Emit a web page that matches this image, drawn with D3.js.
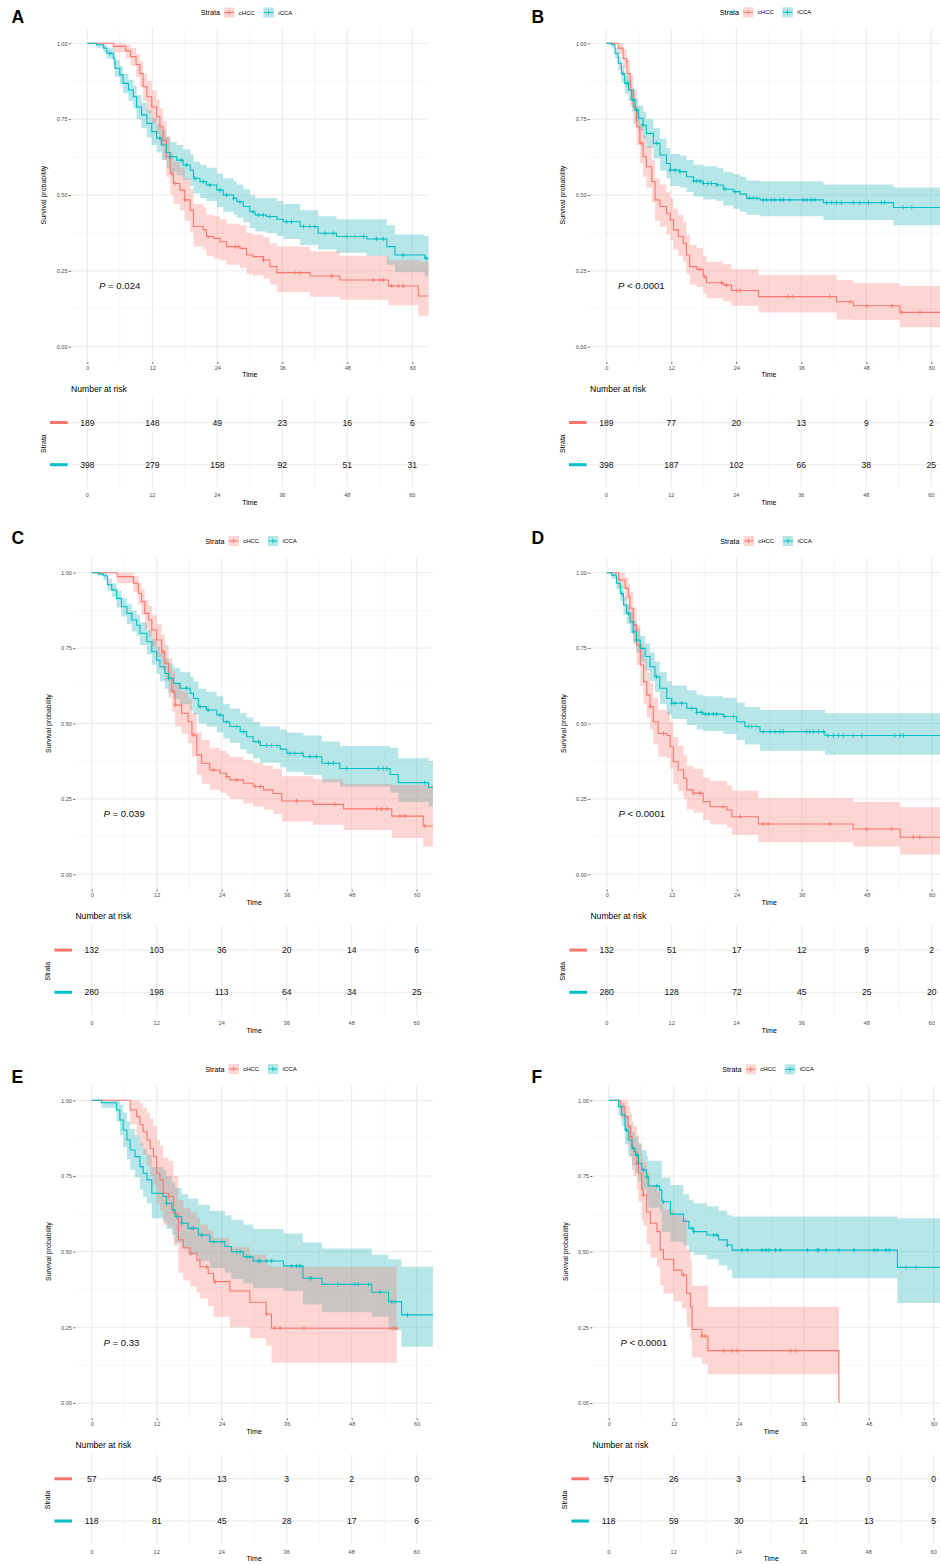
<!DOCTYPE html>
<html><head><meta charset="utf-8">
<script src="https://cdn.jsdelivr.net/npm/d3@7"></script>
<style>
body{margin:0;background:#fff}
svg{display:block}
text{font-family:"Liberation Sans",Arial,Helvetica,sans-serif}
</style>
</head><body>
<svg id="c" width="940" height="1564"></svg>
<script>
// ---------------- DATA ----------------
const strata = ["cHCC", "iCCA"];
const timeTicks = [0, 12, 24, 36, 48, 60];
const timeMinor = [6, 18, 30, 42, 54];
const survTicks = [0, 0.25, 0.5, 0.75, 1];
const survMinor = [0.125, 0.375, 0.625, 0.875];
const panelIds = ["A", "B", "C", "D", "E", "F"];
const pSigns = ["= 0.024", "< 0.0001", "= 0.039", "< 0.0001", "= 0.33", "< 0.0001"];

// rows: [time, survival, lower CI, upper CI]
const A_cHCC = [[0,1,1,1],[4.8,0.99,0.97,1],[7.1,0.975,0.95,0.995],[8.0,0.956,0.925,0.985],[9.0,0.93,0.89,0.965],[9.7,0.90,0.855,0.94],[10.3,0.857,0.81,0.90],[11.0,0.824,0.77,0.875],[11.9,0.79,0.735,0.845],[12.8,0.758,0.70,0.815],[13.4,0.725,0.665,0.785],[14.0,0.68,0.615,0.745],[14.6,0.626,0.56,0.695],[15.3,0.571,0.50,0.64],[15.9,0.538,0.47,0.61],[17.1,0.516,0.45,0.59],[18.0,0.484,0.415,0.555],[19.0,0.45,0.38,0.52],[19.6,0.396,0.33,0.47],[21.4,0.385,0.32,0.46],[22.0,0.363,0.30,0.435],[23.3,0.357,0.29,0.43],[24.5,0.346,0.285,0.42],[25.7,0.33,0.27,0.405],[28.2,0.324,0.26,0.40],[29.4,0.302,0.24,0.375],[30.6,0.297,0.235,0.37],[32.5,0.286,0.225,0.36],[33.7,0.264,0.205,0.34],[35.0,0.244,0.18,0.33],[41.1,0.233,0.165,0.315],[46.6,0.22,0.155,0.30],[55.6,0.20,0.137,0.285],[61.1,0.167,0.10,0.28],[64,0.167,0.10,0.28]];
const A_iCCA = [[0,1,1,1],[1.7,0.995,0.985,1],[3.0,0.984,0.97,0.997],[3.6,0.967,0.95,0.985],[4.8,0.95,0.93,0.97],[5.1,0.918,0.89,0.945],[6.0,0.896,0.865,0.925],[6.6,0.868,0.835,0.90],[7.6,0.846,0.81,0.88],[8.5,0.824,0.785,0.86],[9.1,0.79,0.75,0.83],[10.0,0.764,0.72,0.805],[11.0,0.736,0.69,0.78],[11.9,0.709,0.665,0.755],[12.8,0.687,0.64,0.735],[13.7,0.665,0.615,0.715],[14.6,0.64,0.59,0.69],[15.3,0.626,0.575,0.675],[16.5,0.615,0.565,0.665],[17.7,0.599,0.55,0.65],[19.0,0.582,0.53,0.635],[19.6,0.555,0.505,0.61],[20.8,0.544,0.49,0.60],[22.0,0.533,0.48,0.59],[23.9,0.516,0.46,0.57],[25.1,0.50,0.445,0.555],[27.0,0.489,0.435,0.545],[27.6,0.478,0.425,0.535],[28.8,0.462,0.41,0.52],[30.0,0.445,0.39,0.50],[31.0,0.434,0.38,0.49],[33.1,0.429,0.375,0.49],[35.0,0.42,0.365,0.48],[36.2,0.412,0.355,0.47],[39.3,0.396,0.335,0.45],[42.6,0.374,0.32,0.43],[46.0,0.363,0.31,0.42],[51.6,0.355,0.30,0.42],[55.3,0.33,0.27,0.40],[56.8,0.302,0.245,0.37],[62.3,0.291,0.232,0.365],[64,0.291,0.232,0.365]];
const B_cHCC = [[0,1,1,1],[2.2,0.984,0.965,1],[3.1,0.95,0.92,0.98],[3.8,0.90,0.86,0.945],[4.4,0.846,0.795,0.895],[5.0,0.79,0.735,0.845],[5.6,0.725,0.665,0.785],[6.2,0.67,0.605,0.735],[6.8,0.626,0.56,0.695],[7.4,0.593,0.525,0.66],[8.4,0.544,0.475,0.615],[9.0,0.484,0.415,0.555],[9.9,0.462,0.395,0.535],[11.1,0.44,0.37,0.51],[11.8,0.418,0.35,0.49],[12.4,0.385,0.32,0.455],[13.3,0.363,0.30,0.435],[14.2,0.341,0.28,0.41],[14.8,0.302,0.24,0.37],[15.4,0.264,0.205,0.335],[16.7,0.255,0.197,0.325],[17.9,0.231,0.175,0.30],[18.5,0.211,0.16,0.28],[21.6,0.203,0.15,0.272],[23.1,0.185,0.135,0.255],[28.1,0.165,0.113,0.236],[42.5,0.148,0.09,0.22],[45.6,0.135,0.088,0.21],[54.2,0.113,0.064,0.20],[64,0.113,0.064,0.20]];
const B_iCCA = [[0,1,1,1],[1.0,0.995,0.985,1],[1.6,0.967,0.95,0.985],[2.2,0.934,0.91,0.955],[2.8,0.90,0.87,0.925],[3.4,0.868,0.835,0.895],[4.1,0.846,0.81,0.88],[4.7,0.813,0.775,0.85],[5.3,0.78,0.74,0.82],[5.9,0.753,0.71,0.795],[6.8,0.73,0.685,0.775],[7.4,0.703,0.655,0.75],[8.7,0.67,0.62,0.72],[9.9,0.632,0.58,0.685],[11.1,0.604,0.555,0.655],[11.8,0.582,0.53,0.635],[13.6,0.577,0.525,0.63],[14.8,0.56,0.51,0.615],[16.1,0.546,0.495,0.60],[17.9,0.538,0.485,0.595],[20.4,0.533,0.48,0.59],[21.6,0.519,0.465,0.575],[23.4,0.511,0.455,0.568],[24.7,0.503,0.445,0.56],[25.9,0.489,0.435,0.548],[28.4,0.484,0.43,0.545],[40.1,0.475,0.418,0.535],[53.0,0.459,0.40,0.525],[64,0.459,0.40,0.525]];
const C_cHCC = [[0,1,1,1],[4.7,0.987,0.965,1],[7.7,0.965,0.935,0.99],[8.6,0.931,0.895,0.965],[9.2,0.904,0.86,0.945],[9.8,0.865,0.815,0.91],[10.5,0.843,0.79,0.89],[11.1,0.81,0.755,0.86],[12.0,0.777,0.72,0.83],[12.9,0.738,0.68,0.795],[13.5,0.70,0.64,0.76],[14.2,0.65,0.585,0.715],[14.8,0.606,0.54,0.675],[15.4,0.561,0.49,0.63],[16.6,0.534,0.465,0.605],[17.8,0.506,0.435,0.58],[18.5,0.462,0.39,0.535],[19.4,0.396,0.33,0.47],[20.3,0.368,0.30,0.445],[21.8,0.346,0.28,0.42],[23.7,0.335,0.27,0.41],[24.9,0.324,0.26,0.40],[25.5,0.313,0.25,0.39],[28.0,0.302,0.235,0.38],[29.8,0.291,0.225,0.37],[31.7,0.28,0.215,0.36],[33.5,0.268,0.2,0.35],[35.1,0.243,0.175,0.325],[40.9,0.232,0.164,0.315],[46.5,0.217,0.147,0.30],[55.4,0.193,0.12,0.296],[61.2,0.16,0.092,0.296],[64,0.16,0.092,0.296]];
const C_iCCA = [[0,1,1,1],[1.2,0.996,0.99,1],[2.2,0.99,0.975,1],[2.9,0.96,0.94,0.98],[3.7,0.943,0.92,0.965],[4.6,0.915,0.885,0.94],[5.5,0.887,0.855,0.915],[6.5,0.865,0.83,0.895],[7.4,0.843,0.805,0.875],[8.3,0.826,0.79,0.86],[8.9,0.799,0.76,0.835],[10.2,0.771,0.73,0.81],[11.1,0.738,0.695,0.78],[12.0,0.71,0.665,0.755],[12.6,0.688,0.64,0.735],[13.5,0.666,0.615,0.715],[14.2,0.65,0.60,0.70],[15.1,0.633,0.58,0.685],[16.3,0.617,0.565,0.67],[18.2,0.60,0.545,0.655],[18.8,0.583,0.53,0.64],[19.7,0.556,0.50,0.615],[21.2,0.545,0.49,0.605],[23.1,0.528,0.47,0.59],[24.3,0.506,0.45,0.565],[25.5,0.49,0.435,0.55],[27.4,0.473,0.415,0.535],[28.6,0.456,0.40,0.52],[29.8,0.44,0.385,0.505],[31.1,0.427,0.37,0.49],[34.8,0.415,0.355,0.48],[36.0,0.401,0.34,0.47],[39.1,0.39,0.33,0.46],[42.5,0.368,0.305,0.44],[45.8,0.351,0.29,0.425],[55.1,0.331,0.27,0.42],[56.6,0.304,0.24,0.385],[62.2,0.288,0.225,0.376],[64,0.288,0.225,0.376]];
const D_cHCC = [[0,1,1,1],[2.2,0.976,0.95,1],[3.4,0.948,0.91,0.985],[4.0,0.92,0.875,0.965],[4.3,0.882,0.83,0.935],[4.9,0.827,0.77,0.885],[5.5,0.76,0.695,0.825],[6.2,0.694,0.625,0.765],[6.8,0.639,0.565,0.715],[7.4,0.594,0.52,0.67],[8.0,0.556,0.48,0.635],[8.6,0.506,0.43,0.585],[9.5,0.467,0.39,0.545],[11.1,0.46,0.385,0.54],[11.7,0.423,0.35,0.505],[12.3,0.373,0.30,0.455],[13.2,0.346,0.275,0.425],[14.2,0.318,0.25,0.395],[14.8,0.28,0.215,0.36],[16.0,0.269,0.205,0.35],[17.8,0.241,0.18,0.32],[19.1,0.224,0.165,0.31],[22.2,0.213,0.155,0.295],[23.1,0.191,0.13,0.277],[28.0,0.167,0.106,0.252],[45.5,0.15,0.092,0.24],[54.2,0.123,0.066,0.222],[64,0.123,0.066,0.222]];
const D_iCCA = [[0,1,1,1],[0.9,0.992,0.98,1],[1.8,0.965,0.945,0.985],[2.5,0.931,0.905,0.955],[3.1,0.893,0.86,0.92],[3.7,0.865,0.83,0.895],[4.3,0.838,0.80,0.87],[4.9,0.804,0.765,0.84],[5.5,0.777,0.735,0.815],[6.2,0.749,0.705,0.79],[7.1,0.722,0.675,0.765],[8.0,0.688,0.64,0.735],[8.9,0.655,0.605,0.705],[9.8,0.617,0.565,0.67],[11.1,0.583,0.53,0.64],[12.0,0.567,0.515,0.625],[14.8,0.55,0.495,0.61],[16.6,0.537,0.48,0.595],[17.8,0.531,0.475,0.59],[21.5,0.523,0.465,0.585],[24.0,0.506,0.445,0.57],[25.5,0.49,0.43,0.555],[28.3,0.473,0.41,0.545],[40.3,0.46,0.396,0.534],[64,0.46,0.396,0.534]];
const E_cHCC = [[0,1,1,1],[7.1,0.968,0.92,1],[8.3,0.946,0.885,1],[8.9,0.92,0.85,0.99],[9.5,0.896,0.82,0.975],[10.2,0.869,0.785,0.96],[10.8,0.841,0.75,0.94],[11.4,0.814,0.72,0.915],[12.0,0.759,0.66,0.87],[12.6,0.737,0.635,0.85],[13.2,0.693,0.59,0.81],[14.2,0.682,0.58,0.80],[15.1,0.627,0.52,0.75],[16.0,0.539,0.43,0.67],[16.9,0.513,0.405,0.645],[18.2,0.494,0.385,0.63],[19.4,0.472,0.365,0.61],[20.0,0.45,0.345,0.59],[21.5,0.428,0.32,0.57],[22.5,0.401,0.285,0.545],[25.5,0.37,0.25,0.515],[29.2,0.333,0.214,0.49],[32.2,0.294,0.19,0.455],[33.2,0.247,0.133,0.45],[56.3,0.247,0.133,0.45]];
const E_iCCA = [[0,1,1,1],[1.8,0.992,0.975,1],[4.6,0.968,0.93,1],[5.2,0.935,0.885,0.985],[5.8,0.902,0.845,0.96],[6.5,0.869,0.805,0.93],[7.1,0.836,0.77,0.905],[8.0,0.814,0.745,0.885],[8.9,0.781,0.705,0.86],[9.5,0.759,0.68,0.84],[10.2,0.737,0.66,0.82],[11.1,0.693,0.61,0.78],[13.2,0.682,0.60,0.77],[13.8,0.66,0.575,0.75],[14.8,0.638,0.555,0.73],[15.4,0.616,0.53,0.71],[16.6,0.594,0.51,0.69],[17.8,0.577,0.49,0.675],[19.7,0.555,0.47,0.655],[21.8,0.533,0.445,0.635],[24.6,0.517,0.43,0.62],[25.8,0.50,0.41,0.605],[28.0,0.483,0.395,0.59],[29.8,0.469,0.38,0.575],[35.4,0.453,0.37,0.56],[39.0,0.412,0.325,0.53],[42.5,0.392,0.30,0.51],[51.7,0.366,0.285,0.49],[54.8,0.335,0.24,0.475],[57.2,0.291,0.186,0.45],[64,0.291,0.186,0.45]];
const F_cHCC = [[0,1,1,1],[2.1,0.979,0.94,1],[3.0,0.946,0.895,1],[3.6,0.913,0.85,0.98],[4.0,0.88,0.81,0.955],[4.3,0.847,0.77,0.93],[4.6,0.83,0.75,0.915],[5.2,0.792,0.705,0.885],[5.5,0.759,0.665,0.86],[6.1,0.704,0.605,0.81],[6.4,0.687,0.585,0.795],[7.0,0.632,0.525,0.76],[7.7,0.594,0.48,0.72],[8.9,0.566,0.45,0.70],[9.5,0.506,0.39,0.66],[10.1,0.475,0.362,0.64],[12.0,0.439,0.335,0.62],[13.5,0.423,0.313,0.61],[14.4,0.362,0.252,0.506],[15.1,0.318,0.21,0.47],[15.4,0.243,0.15,0.387],[17.2,0.221,0.13,0.387],[18.3,0.173,0.095,0.318],[42.5,0,null,null]];
const F_iCCA = [[0,1,1,1],[1.8,0.979,0.95,1],[2.4,0.952,0.915,0.99],[3.0,0.902,0.855,0.95],[3.6,0.869,0.815,0.92],[4.3,0.841,0.785,0.895],[4.9,0.819,0.76,0.88],[5.5,0.792,0.73,0.855],[6.1,0.77,0.705,0.835],[7.0,0.748,0.68,0.815],[7.3,0.717,0.645,0.80],[9.4,0.704,0.63,0.80],[9.8,0.665,0.565,0.745],[11.4,0.624,0.533,0.72],[13.8,0.60,0.52,0.69],[14.8,0.577,0.50,0.67],[15.7,0.566,0.49,0.66],[18.1,0.555,0.475,0.65],[20.3,0.539,0.455,0.635],[21.9,0.522,0.44,0.62],[22.8,0.505,0.412,0.616],[53.3,0.448,0.33,0.61],[64,0.448,0.33,0.61]];

// censoring times
const A_cHCC_cens = [15.6,16.2,18.0,22.3,27.3,27.9,32.5,38.3,39.3,45.1,52.8,54.0,54.6,56.2,57.4,58.3];
const A_iCCA_cens = [4.2,13.4,15.3,17.4,18.3,19.9,21.4,22.6,24.5,25.7,27.0,28.2,30.6,31.6,32.5,33.7,36.8,37.7,39.9,41.1,42.0,43.9,45.4,47.9,49.4,51.0,53.4,54.6,58.3,62.6];
const B_cHCC_cens = [6.5,17.3,18.2,21.3,22.2,24.1,24.7,33.6,34.5,41.3,45.0,48.1,52.7,54.5,57.9];
const B_iCCA_cens = [3.1,3.8,5.0,5.6,6.8,9.3,11.8,12.7,13.6,16.1,16.7,17.3,17.9,18.8,19.4,20.4,21.9,23.8,26.5,27.1,27.8,29.0,29.6,30.5,31.1,32.1,32.7,33.9,36.4,37.0,37.9,38.5,40.7,41.6,42.5,43.4,45.6,46.8,48.4,50.8,51.4,54.8,56.4];
const C_cHCC_cens = [13.2,15.1,15.4,18.8,22.5,24.9,26.8,30.2,31.1,37.8,44.9,52.6,53.5,54.5,56.9,57.8,61.5];
const C_iCCA_cens = [14.2,17.5,20.0,21.5,23.7,24.9,26.8,28.0,30.8,32.3,33.2,34.2,36.6,37.5,38.8,40.3,41.5,43.7,44.6,47.1,52.9,53.8,54.5,61.5];
const D_cHCC_cens = [8.0,10.5,16.0,17.2,21.5,24.6,28.9,29.8,41.2,48.0,52.6,56.6,57.8];
const D_iCCA_cens = [2.8,4.0,4.9,5.5,9.2,12.0,12.6,13.8,15.7,16.6,17.5,18.2,18.8,19.7,20.3,21.8,23.4,26.2,26.8,27.7,28.9,30.2,31.1,32.0,32.6,36.9,37.5,38.2,39.1,40.0,40.9,41.8,42.8,43.7,45.5,47.1,53.2,54.2,54.8];
const E_cHCC_cens = [14.2,18.3,21.2,22.8,32.3,33.8,34.8,39.2,55.7,56.3];
const E_iCCA_cens = [13.8,15.7,16.6,18.5,18.8,20.3,22.5,24.0,26.8,27.4,28.6,29.2,30.8,31.1,32.3,33.2,36.9,37.8,38.5,40.3,40.6,45.4,48.6,49.2,51.1,53.2,55.4,56.0,58.3];
const F_cHCC_cens = [4.0,5.2,6.4,13.8,17.2,17.8,21.2,22.8,23.7,33.6,34.5];
const F_iCCA_cens = [3.3,4.6,5.2,6.4,7.0,8.9,10.1,15.4,15.7,19.4,20.0,21.9,24.6,25.6,28.3,29.0,29.6,30.8,31.7,36.7,38.5,38.8,40.1,42.5,45.3,49.0,49.6,51.2,51.8,54.9,56.7];

// number at risk at timeTicks
const A_risk_cHCC = [189,148,49,23,16,6];
const A_risk_iCCA = [398,279,158,92,51,31];
const B_risk_cHCC = [189,77,20,13,9,2];
const B_risk_iCCA = [398,187,102,66,38,25];
const C_risk_cHCC = [132,103,36,20,14,6];
const C_risk_iCCA = [280,198,113,64,34,25];
const D_risk_cHCC = [132,51,17,12,9,2];
const D_risk_iCCA = [280,128,72,45,25,20];
const E_risk_cHCC = [57,45,13,3,2,0];
const E_risk_iCCA = [118,81,45,28,17,6];
const F_risk_cHCC = [57,26,3,1,0,0];
const F_risk_iCCA = [118,59,30,21,13,5];

const curves = {A:[A_cHCC,A_iCCA],B:[B_cHCC,B_iCCA],C:[C_cHCC,C_iCCA],D:[D_cHCC,D_iCCA],E:[E_cHCC,E_iCCA],F:[F_cHCC,F_iCCA]};
const censors = {A:[A_cHCC_cens,A_iCCA_cens],B:[B_cHCC_cens,B_iCCA_cens],C:[C_cHCC_cens,C_iCCA_cens],D:[D_cHCC_cens,D_iCCA_cens],E:[E_cHCC_cens,E_iCCA_cens],F:[F_cHCC_cens,F_iCCA_cens]};
const risks = {A:[A_risk_cHCC,A_risk_iCCA],B:[B_risk_cHCC,B_risk_iCCA],C:[C_risk_cHCC,C_risk_iCCA],D:[D_risk_cHCC,D_risk_iCCA],E:[E_risk_cHCC,E_risk_iCCA],F:[F_risk_cHCC,F_risk_iCCA]};

// ---------------- LAYOUT ----------------
const layout = [
  {x0:87.3,  y1:43.3,   y0:346.7, lx:11.5, ly:22.7,   legY:12.5},
  {x0:606.3, y1:43.3,   y0:346.7, lx:531.5, ly:22.7,  legY:12.3},
  {x0:91.7,  y1:572.7,  y0:874.3, lx:11.5, ly:544.3,  legY:541},
  {x0:606.7, y1:572.7,  y0:874.3, lx:531.5, ly:544.3, legY:541},
  {x0:91.7,  y1:1100.3, y0:1403,  lx:11.5, ly:1082.7, legY:1069},
  {x0:608.7, y1:1100.3, y0:1403,  lx:531.5, ly:1082.7, legY:1069.3}
];
const colors = ["#F8766D", "#00BFC4"];
const bandColors = ["#F8766D", "#12adb3"];
const FONT = '"Liberation Sans",Arial,Helvetica,sans-serif';

const svg = d3.select("#c");
const defs = svg.append("defs");

layout.forEach((L, i) => {
  const id = panelIds[i];
  const g = svg.append("g");
  const x = d3.scaleLinear().domain([0, 60]).range([L.x0, L.x0 + 325]);
  const y = d3.scaleLinear().domain([0, 1]).range([L.y0, L.y1]);
  const xl = x(-3), xr = x(63), yt = y(1.05), yb = y(-0.05);

  // grid
  const grid = g.append("g");
  grid.selectAll(".hm").data(survMinor).join("line")
    .attr("x1", xl).attr("x2", xr).attr("y1", d => y(d)).attr("y2", d => y(d))
    .attr("stroke", "#f2f2f2").attr("stroke-width", 0.6);
  grid.selectAll(".vm").data(timeMinor).join("line")
    .attr("x1", d => x(d)).attr("x2", d => x(d)).attr("y1", yt).attr("y2", yb)
    .attr("stroke", "#f0f0f0").attr("stroke-width", 0.7);
  grid.selectAll(".hM").data(survTicks).join("line")
    .attr("x1", xl).attr("x2", xr).attr("y1", d => y(d)).attr("y2", d => y(d))
    .attr("stroke", "#e8e8e8").attr("stroke-width", 0.9);
  grid.selectAll(".vM").data(timeTicks).join("line")
    .attr("x1", d => x(d)).attr("x2", d => x(d)).attr("y1", yt).attr("y2", yb)
    .attr("stroke", "#e8e8e8").attr("stroke-width", 0.9);

  // clip
  defs.append("clipPath").attr("id", "clip" + id).append("rect")
    .attr("x", xl).attr("y", yt).attr("width", xr - xl).attr("height", yb - yt);
  const plot = g.append("g").attr("clip-path", `url(#clip${id})`);

  const area = d3.area().x(d => x(d.t)).y0(d => y(d.lo)).y1(d => y(d.hi));
  const line = d3.line().x(d => x(d[0])).y(d => y(d[1])).curve(d3.curveStepAfter);

  // ribbons: iCCA first, cHCC on top (neutral grey overlap)
  [1, 0].forEach(k => {
    const rows = curves[id][k];
    const pts = [];
    for (let j = 0; j < rows.length - 1; j++) {
      const r = rows[j], n = rows[j + 1];
      if (r[2] == null) continue;
      pts.push({t: r[0], lo: r[2], hi: r[3]}, {t: n[0], lo: r[2], hi: r[3]});
    }
    plot.append("path").attr("d", area(pts)).attr("fill", bandColors[k]).attr("fill-opacity", 0.3);
  });
  curves[id].forEach((rows, k) => {
    plot.append("path").attr("d", line(rows)).attr("fill", "none")
      .attr("stroke", colors[k]).attr("stroke-width", 1.1);
    const bis = d3.bisector(r => r[0]).right;
    const cg = plot.append("g").attr("stroke", colors[k]).attr("stroke-width", 0.9);
    censors[id][k].forEach(t => {
      const s = rows[Math.max(0, bis(rows, t) - 1)][1];
      const cx = x(t), cy = y(s);
      cg.append("path").attr("d", `M${cx - 1.8},${cy}H${cx + 1.8}M${cx},${cy - 2.2}V${cy + 2.2}`);
    });
  });

  // axes
  const ya = g.append("g").attr("transform", `translate(${xl},0)`)
    .call(d3.axisLeft(y).tickValues(survTicks).tickFormat(d3.format(".2f")).tickSize(2.3).tickPadding(1.2));
  ya.select(".domain").remove();
  ya.selectAll("line").attr("stroke", "#333").attr("stroke-width", 0.7);
  ya.selectAll("text").attr("font-size", 5.6).attr("fill", "#4d4d4d").attr("font-family", FONT);

  const xa = g.append("g").attr("transform", `translate(0,${yb})`)
    .call(d3.axisBottom(x).tickValues(timeTicks).tickSize(2.3).tickPadding(1.5));
  xa.select(".domain").remove();
  xa.selectAll("line").attr("stroke", "#333").attr("stroke-width", 0.7);
  xa.selectAll("text").attr("font-size", 5.6).attr("fill", "#4d4d4d").attr("font-family", FONT);

  g.append("text").attr("x", (xl + xr) / 2).attr("y", L.y0 + 28.3).attr("dy", "0.35em")
    .attr("text-anchor", "middle").attr("font-size", 7).text("Time");
  g.append("text").attr("transform", `translate(${L.x0 - 43.6},${(L.y0 + L.y1) / 2}) rotate(-90)`)
    .attr("dy", "0.35em").attr("text-anchor", "middle").attr("font-size", 7).text("Survival probability");

  // p-value
  const pt = g.append("text").attr("x", L.x0 + 11.7).attr("y", y(0.2)).attr("dy", "0.35em")
    .attr("font-size", 9.6).attr("fill", "#111");
  pt.append("tspan").attr("font-style", "italic").text("P");
  pt.append("tspan").text(" " + pSigns[i]);

  // panel label
  g.append("text").attr("x", L.lx).attr("y", L.ly).attr("font-size", 17.5)
    .attr("font-weight", "bold").text(id);

  // legend
  const lg = g.append("g").attr("transform", `translate(${L.x0 + 113.5},${L.legY})`);
  lg.append("text").attr("x", 0).attr("dy", "0.35em").attr("font-size", 7.2).text("Strata");
  const keyX = [23.2, 62.5], txtX = [38, 77.5];
  strata.forEach((s, k) => {
    lg.append("rect").attr("x", keyX[k]).attr("y", -5).attr("width", 10.5).attr("height", 10)
      .attr("fill", bandColors[k]).attr("fill-opacity", 0.3);
    lg.append("path").attr("d", `M${keyX[k] + 0.5},0H${keyX[k] + 10}M${keyX[k] + 5.25},-2.2V2.2`)
      .attr("stroke", colors[k]).attr("stroke-width", 1);
    lg.append("text").attr("x", txtX[k]).attr("dy", "0.35em").attr("font-size", 6).text(s);
  });

  // risk table
  const rt = L.y0 + 51, rb = L.y0 + 141;
  const rowY = [L.y0 + 75.8, L.y0 + 118];
  const tg = g.append("g");
  tg.selectAll(".rv").data(timeMinor).join("line")
    .attr("x1", d => x(d)).attr("x2", d => x(d)).attr("y1", rt).attr("y2", rb)
    .attr("stroke", "#f0f0f0").attr("stroke-width", 0.7);
  tg.selectAll(".rV").data(timeTicks).join("line")
    .attr("x1", d => x(d)).attr("x2", d => x(d)).attr("y1", rt).attr("y2", rb)
    .attr("stroke", "#e8e8e8").attr("stroke-width", 0.9);
  tg.selectAll(".rh").data(rowY).join("line")
    .attr("x1", xl).attr("x2", xr).attr("y1", d => d).attr("y2", d => d)
    .attr("stroke", "#e8e8e8").attr("stroke-width", 0.9);
  g.append("text").attr("x", L.x0 - 16.3).attr("y", L.y0 + 42).attr("dy", "0.35em")
    .attr("font-size", 8.6).text("Number at risk");
  risks[id].forEach((vals, k) => {
    tg.append("line").attr("x1", L.x0 - 37.3).attr("x2", L.x0 - 19.6)
      .attr("y1", rowY[k]).attr("y2", rowY[k]).attr("stroke", colors[k]).attr("stroke-width", 3);
    tg.selectAll(".n" + k).data(vals).join("text")
      .attr("x", (d, j) => x(timeTicks[j])).attr("y", rowY[k]).attr("dy", "0.35em")
      .attr("text-anchor", "middle").attr("font-size", 8.6).attr("fill", "#111").text(d => d);
  });
  tg.append("text").attr("transform", `translate(${L.x0 - 44},${(rowY[0] + rowY[1]) / 2}) rotate(-90)`)
    .attr("dy", "0.35em").attr("text-anchor", "middle").attr("font-size", 7).text("Strata");
  tg.selectAll(".tl").data(timeTicks).join("text")
    .attr("x", d => x(d)).attr("y", L.y0 + 148.7).attr("dy", "0.35em")
    .attr("text-anchor", "middle").attr("font-size", 5.6).attr("fill", "#4d4d4d").text(d => d);
  tg.append("text").attr("x", (xl + xr) / 2).attr("y", L.y0 + 156).attr("dy", "0.35em")
    .attr("text-anchor", "middle").attr("font-size", 7).text("Time");
});
</script>
</body></html>
